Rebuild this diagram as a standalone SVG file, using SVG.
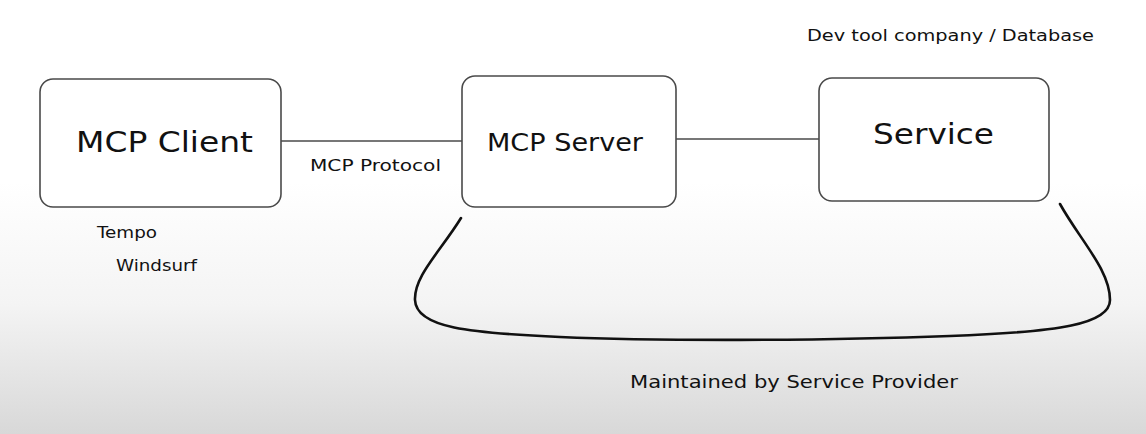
<svg xmlns="http://www.w3.org/2000/svg" width="1146" height="434" viewBox="0 0 1146 434">
  <defs>
    <linearGradient id="bg" x1="0" y1="0" x2="0" y2="1">
      <stop offset="0" stop-color="#ffffff"/>
      <stop offset="0.42" stop-color="#ffffff"/>
      <stop offset="0.7" stop-color="#f4f4f4"/>
      <stop offset="1" stop-color="#d8d8d8"/>
    </linearGradient>
  </defs>
  <style>
    .box { fill: #ffffff; stroke: #4a4a4a; stroke-width: 1.6; }
    .line { fill: none; stroke: #4a4a4a; stroke-width: 1.5; }
    .brace { fill: none; stroke: #111111; stroke-width: 2.6; stroke-linecap: round; }
    text { font-family: "DejaVu Sans", "Liberation Sans", sans-serif; fill: #111111; }
    .big { font-size: 29px; }
    .mid { font-size: 25px; }
    .small { font-size: 16px; }
    .label { font-size: 18px; }
  </style>
  <rect x="0" y="0" width="1146" height="434" fill="url(#bg)"/>

  <g id="connectors">
    <line class="line" x1="281" y1="141" x2="462" y2="141"/>
    <line class="line" x1="676" y1="139" x2="819" y2="139"/>
    <path class="brace" d="M461,218 C440,252 414,276 415,300 C416,328 470,333 560,337 C650,341 820,341 950,336 C1060,332 1110,324 1110,300 C1110,270 1080,240 1060,204"/>
  </g>

  <g id="mcp-client">
    <rect class="box" x="40" y="79" width="241" height="128" rx="13"/>
    <text class="big" x="76" y="152" textLength="177" lengthAdjust="spacingAndGlyphs">MCP Client</text>
  </g>

  <g id="mcp-protocol-label">
    <text class="small" x="310" y="171" textLength="131" lengthAdjust="spacingAndGlyphs">MCP Protocol</text>
  </g>

  <g id="mcp-server">
    <rect class="box" x="462" y="76" width="214" height="131" rx="13"/>
    <text class="mid" x="487" y="151" textLength="156" lengthAdjust="spacingAndGlyphs">MCP Server</text>
  </g>

  <g id="service">
    <rect class="box" x="819" y="78" width="230" height="123" rx="13"/>
    <text class="big" x="873" y="144" textLength="121" lengthAdjust="spacingAndGlyphs">Service</text>
  </g>

  <g id="service-caption">
    <text class="small" x="807" y="41" textLength="287" lengthAdjust="spacingAndGlyphs">Dev tool company / Database</text>
  </g>

  <g id="client-examples">
    <text class="small" x="97" y="238" textLength="60" lengthAdjust="spacingAndGlyphs">Tempo</text>
    <text class="small" x="116" y="271" textLength="81" lengthAdjust="spacingAndGlyphs">Windsurf</text>
  </g>

  <g id="maintained-label">
    <text class="label" x="630" y="388" textLength="328" lengthAdjust="spacingAndGlyphs">Maintained by Service Provider</text>
  </g>
</svg>
